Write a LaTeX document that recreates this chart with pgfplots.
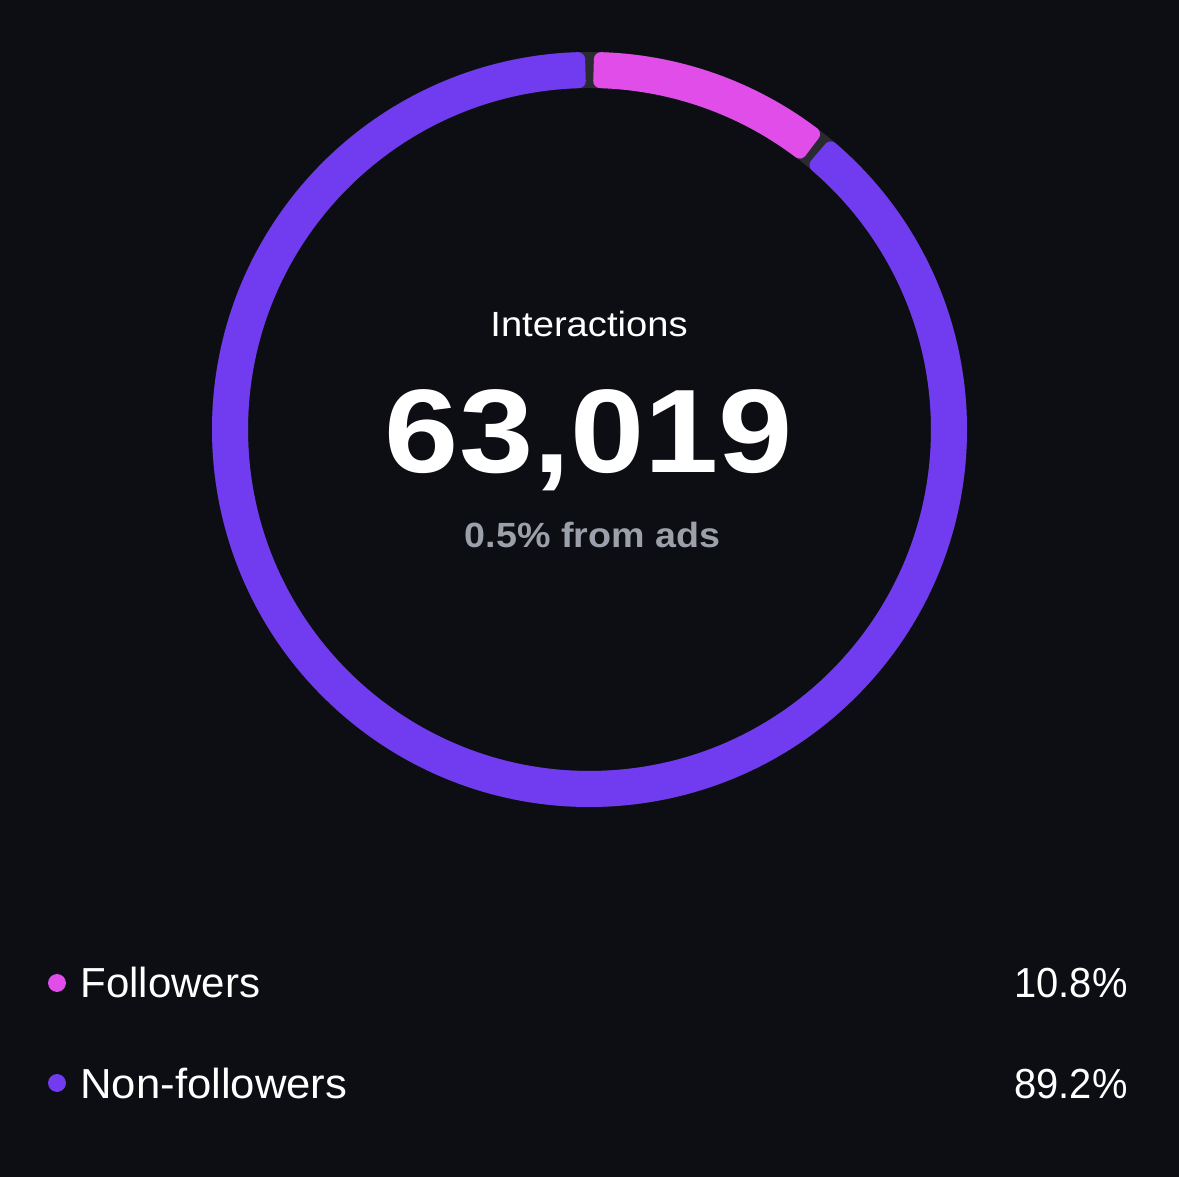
\documentclass[border=0pt]{standalone}
\usepackage{graphicx}
\usepackage{pgfplots}
\pgfplotsset{compat=1.18}
\usepackage{fontspec}
\setmainfont{Liberation Sans}
\definecolor{bgc}{RGB}{12,14,19}
\definecolor{pinkc}{RGB}{224,77,232}
\definecolor{purplec}{RGB}{113,59,240}
\definecolor{trackc}{RGB}{42,43,48}
\definecolor{grayt}{RGB}{156,160,170}
\begin{document}
\begin{tikzpicture}
% data (percent)
\pgfmathsetmacro{\fol}{10.8}
\pgfmathsetmacro{\non}{89.2}
% geometry
\pgfmathsetmacro{\gap}{1.3}
\pgfmathsetmacro{\dl}{3.5/179.75*57.29578}
\pgfmathsetmacro{\pA}{90-\gap/2-\dl}
\pgfmathsetmacro{\pB}{90-3.6*\fol+\gap/2+\dl}
\pgfmathsetmacro{\qA}{90-3.6*\fol-\gap/2-\dl}
\pgfmathsetmacro{\qB}{90-3.6*\fol-3.6*\non+\gap/2+\dl}
\begin{axis}[width=589.5bp, height=588.5bp, scale only axis,
  xmin=0, xmax=1179, ymin=0, ymax=1177, hide axis, clip=false]
\fill[bgc] (axis cs:0,0) rectangle (axis cs:1179,1177);
\coordinate (C) at (axis cs:589.5,747.5);
\draw[trackc, line width=18bp] (C) circle[radius=179.75bp];
\filldraw[pinkc, line width=7bp, line join=round]
  ([shift={(\pA:185.25bp)}]C) arc[start angle=\pA, end angle=\pB, radius=185.25bp]
  -- ([shift={(\pB:174.25bp)}]C) arc[start angle=\pB, end angle=\pA, radius=174.25bp] -- cycle;
\filldraw[purplec, line width=7bp, line join=round]
  ([shift={(\qA:185.25bp)}]C) arc[start angle=\qA, end angle=\qB, radius=185.25bp]
  -- ([shift={(\qB:174.25bp)}]C) arc[start angle=\qB, end angle=\qA, radius=174.25bp] -- cycle;
\node[anchor=base, text=white, inner sep=0pt, font=\fontsize{17.5bp}{20bp}\selectfont]
  at (axis cs:589,840) {\scalebox{1.09}[1]{Interactions}};
\node[anchor=base, text=white, inner sep=0pt, font=\fontsize{59.4bp}{64bp}\selectfont\bfseries]
  at (axis cs:589,704) {\scalebox{1.123}[1]{63,019}};
\node[anchor=base, text=grayt, inner sep=0pt, font=\fontsize{17.5bp}{20bp}\selectfont\bfseries]
  at (axis cs:592.5,629) {\scalebox{1.076}[1]{0.5\% from ads}};
\addplot[only marks, mark=*, mark size=4.25bp, pinkc] coordinates {(57,194)};
\addplot[only marks, mark=*, mark size=4.25bp, purplec] coordinates {(57,94)};
\node[anchor=base west, text=white, inner sep=0pt, font=\fontsize{21bp}{24bp}\selectfont]
  at (axis cs:80,179) {Followers};
\node[anchor=base west, text=white, inner sep=0pt, font=\fontsize{21bp}{24bp}\selectfont]
  at (axis cs:80,79) {\scalebox{1.04}[1]{Non-followers}};
\node[anchor=base east, text=white, inner sep=0pt, font=\fontsize{21bp}{24bp}\selectfont]
  at (axis cs:1128,179) {\scalebox{0.95}[1]{10.8\%}};
\node[anchor=base east, text=white, inner sep=0pt, font=\fontsize{21bp}{24bp}\selectfont]
  at (axis cs:1128,79) {\scalebox{0.95}[1]{89.2\%}};
\end{axis}
\end{tikzpicture}
\end{document}
